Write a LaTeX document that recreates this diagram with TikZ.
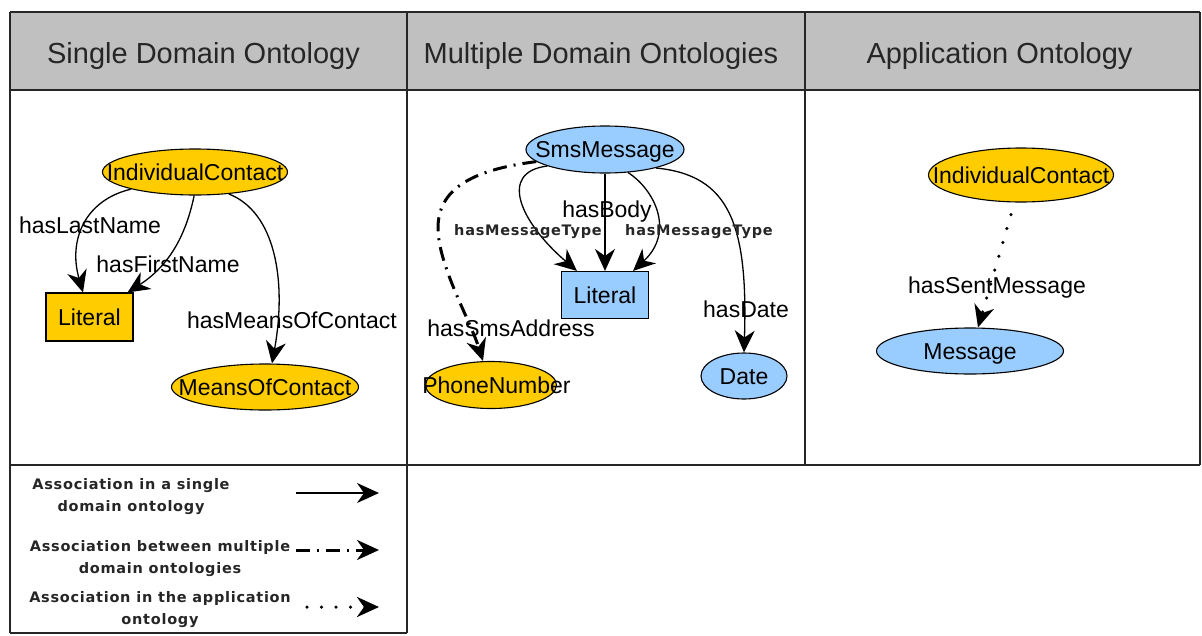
\documentclass[tikz,border=0pt]{standalone}
\usepackage{fontspec}
\setmainfont{Liberation Sans}
\newfontfamily\lgfont[LetterSpace=5]{DejaVu Sans}
\usetikzlibrary{shapes.geometric,arrows.meta}
\definecolor{hdrgray}{HTML}{C0C0C0}
\definecolor{ontyellow}{HTML}{FFCC00}
\definecolor{ontblue}{HTML}{99CCFF}
\newcommand\zw[1]{\makebox[0pt]{#1}}
\begin{document}
\begin{tikzpicture}[x=1pt,y=-1pt,
  >={Stealth[length=22pt,width=20pt,inset=7pt]},
  gridline/.style={line width=2.5pt, black!85},
  title/.style={font=\fontsize{29}{34}\selectfont, anchor=base, inner sep=0pt, text=black!85},
  nodetxt/.style={font=\fontsize{23}{27}\selectfont, text height=16.5pt, text depth=0pt, inner sep=0pt},
  yellell/.style={nodetxt, ellipse, draw, line width=1.1pt, fill=ontyellow},
  blueell/.style={nodetxt, ellipse, draw, line width=1.1pt, fill=ontblue},
  yellbox/.style={nodetxt, rectangle, draw, line width=1.1pt, fill=ontyellow},
  bluebox/.style={nodetxt, rectangle, draw, line width=1.1pt, fill=ontblue},
  edgelbl/.style={font=\fontsize{23}{27}\selectfont, text height=16.5pt, text depth=0pt, inner sep=0pt},
  smalllbl/.style={font=\lgfont\bfseries\fontsize{14.5}{18}\selectfont, text height=11pt, text depth=0pt, inner sep=0pt, text=black!85},
  legtxt/.style={font=\lgfont\bfseries\fontsize{14.5}{22}\selectfont, align=center, inner sep=0pt, text=black!85},
  assoc/.style={line width=1.3pt, ->},
  multi/.style={line width=3pt, dash pattern=on 14pt off 7pt on 2pt off 7pt, ->},
  app/.style={line width=3.5pt, line cap=round, dash pattern=on 0pt off 14.5pt, ->}
]
\useasboundingbox (0,0) rectangle (1202,635);
% table
\fill[hdrgray] (10,12) rectangle (1200,90);
\draw[gridline] (10,12) -- (1200,12);
\draw[gridline] (10,90) -- (1200,90);
\draw[gridline] (10,465) -- (1200,465);
\draw[gridline] (10,633) -- (407,633);
\draw[gridline] (10,12) -- (10,633);
\draw[gridline] (407,12) -- (407,633);
\draw[gridline] (805,12) -- (805,465);
\draw[gridline] (1200,12) -- (1200,465);
% titles
\node[title] (t1) at (203.5,63) {Single Domain Ontology};
\node[title] (t2) at (601,63) {Multiple Domain Ontologies};
\node[title] (t3) at (999.5,63) {Application Ontology};
% panel 1
\node[yellell, minimum width=185pt, minimum height=46pt] (ic1) at (195,172) {\zw{IndividualContact}};
\node[yellbox, minimum width=87pt, minimum height=48pt] (lit1) at (89.5,317) {\zw{Literal}};
\node[yellell, minimum width=187pt, minimum height=46pt] (moc) at (265,387) {\zw{MeansOfContact}};
\draw[assoc] (ic1.195) .. controls (85,200) and (68,240) .. ([xshift=-6.5pt]lit1.north);
\draw[assoc] (ic1.268) .. controls (188,225) and (175,262) .. ([xshift=-6pt]lit1.north east);
\draw[assoc] (ic1.327) .. controls (275,212) and (287,280) .. ([xshift=7pt]moc.north);
\node[edgelbl] (lblLast) at (90,225) {hasLastName};
\node[edgelbl] (lblFirst) at (168,264.5) {hasFirstName};
\node[edgelbl] (lblMoc) at (292,320.5) {hasMeansOfContact};
% panel 2
\node[blueell, minimum width=158pt, minimum height=47pt] (sms) at (605,149.5) {\zw{SmsMessage}};
\node[bluebox, minimum width=87pt, minimum height=47pt] (lit2) at (605,295) {\zw{Literal}};
\node[yellell, minimum width=131pt, minimum height=47pt] (pn) at (491,385) {\zw{\hspace{11pt}PhoneNumber}};
\node[blueell, minimum width=86pt, minimum height=46pt] (date) at (744,376) {\zw{Date}};
\coordinate (smsbend) at (438,228);
\draw[assoc] (sms.south) -- (lit2.north);
\draw[assoc] (sms.196) .. controls (498,172) and (520,222) .. ([xshift=16pt]lit2.north west);
\draw[assoc] (sms.-45) .. controls (655,190) and (675,232) .. ([xshift=-16pt]lit2.north east);
\draw[assoc] (sms.-20) .. controls (730,175) and (748,225) .. (date.north);
\draw[multi] (sms.190) .. controls (470,170) and (438,190) .. (smsbend)
   .. controls (438,265) and (470,320) .. ([xshift=-8pt]pn.north);
\node[edgelbl] (lblBody) at (607,209) {hasBody};
\node[smalllbl] (lblMtA) at (528,230) {hasMessageType};
\node[smalllbl] (lblMtB) at (699,230) {hasMessageType};
\node[edgelbl] (lblDate) at (746,309) {hasDate};
\node[edgelbl] (lblSms) at (511,328) {hasSmsAddress};
% panel 3
\node[yellell, minimum width=185pt, minimum height=54pt] (ic3) at (1021,175) {\zw{IndividualContact}};
\node[blueell, minimum width=187pt, minimum height=46pt] (msg) at (970,351) {\zw{Message}};
\draw[app] ([xshift=-10pt,yshift=-12pt]ic3.south) -- ([xshift=8pt]msg.north);
\node[edgelbl] (lblSent) at (997,285) {hasSentMessage};
% legend
\node[legtxt] (lg1) at (131,496.5) {Association in a single\\domain ontology};
\node[legtxt] (lg2) at (160,559) {Association between multiple\\domain ontologies};
\node[legtxt] (lg3) at (160,610) {Association in the application\\ontology};
\coordinate (a1s) at (296,493); \coordinate (a1e) at (379,493);
\coordinate (a2s) at (296,550); \coordinate (a2e) at (379,550);
\coordinate (a3s) at (307,607); \coordinate (a3e) at (379,607);
\draw[assoc] (a1s) -- (a1e);
\draw[multi] (a2s) -- (a2e);
\draw[app] (a3s) -- (a3e);
\end{tikzpicture}
\end{document}
